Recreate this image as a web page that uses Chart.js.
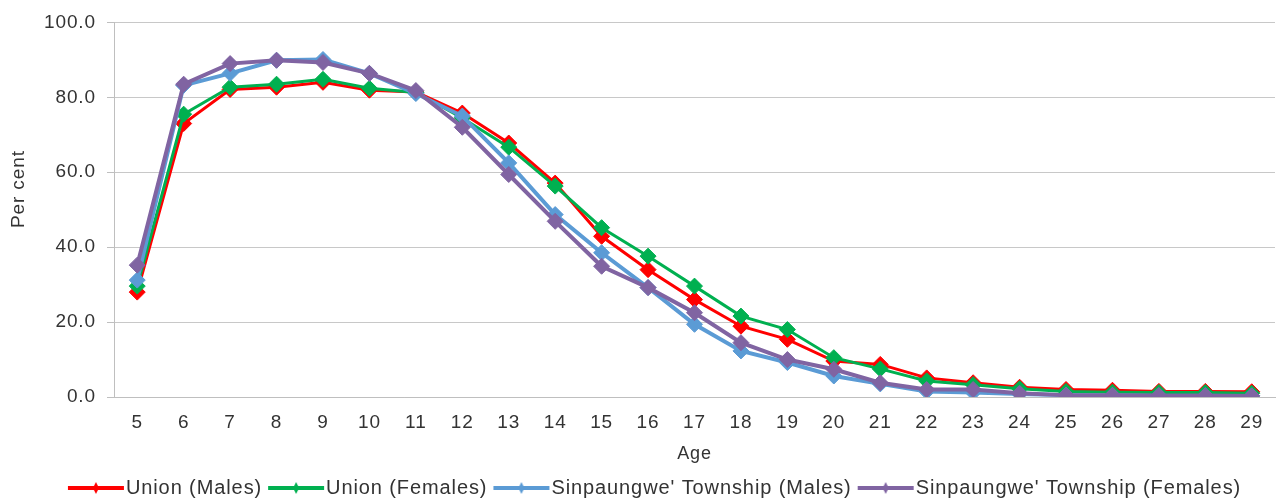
<!DOCTYPE html>
<html>
<head>
<meta charset="utf-8">
<script src="https://cdn.jsdelivr.net/npm/chart.js@4.4.1/dist/chart.umd.min.js"></script>
<style>
  html, body { margin: 0; padding: 0; background: #ffffff; }
  #wrap { width: 1284px; height: 500px; position: relative; }
</style>
</head>
<body>
<div id="wrap"><canvas id="c"></canvas></div>
<script>
const ages = ['5','6','7','8','9','10','11','12','13','14','15','16','17','18','19','20','21','22','23','24','25','26','27','28','29'];
const unionMales = [28.0, 73.0, 82.1, 82.7, 84.0, 81.9, 81.4, 75.8, 67.8, 57.1, 42.9, 34.0, 26.0, 18.9, 15.4, 9.6, 8.7, 5.1, 3.8, 2.6, 2.0, 1.8, 1.5, 1.5, 1.4];
const unionFemales = [29.6, 75.5, 82.7, 83.5, 84.8, 82.4, 81.3, 74.5, 66.7, 56.3, 45.2, 37.6, 29.6, 21.6, 18.0, 10.5, 7.5, 4.3, 3.3, 2.2, 1.5, 1.3, 1.2, 1.2, 1.0];
const townshipMales = [31.2, 83.2, 86.4, 89.9, 90.1, 86.4, 81.0, 75.0, 62.5, 48.7, 38.5, 29.2, 19.4, 12.3, 9.2, 5.6, 3.5, 1.5, 1.2, 0.8, 0.5, 0.4, 0.3, 0.3, 0.3];
const townshipFemales = [35.2, 83.5, 89.0, 89.9, 89.3, 86.4, 81.8, 72.0, 59.4, 46.9, 34.9, 29.2, 22.5, 14.5, 10.0, 7.4, 3.8, 2.0, 2.0, 1.0, 0.5, 0.5, 0.4, 0.4, 0.3];
const seriesNames = ['Union (Males)', 'Union (Females)', "Sinpaungwe' Township (Males)", "Sinpaungwe' Township (Females)"];
const yTicks = [0, 20, 40, 60, 80, 100];
const yTitle = 'Per cent';
const xTitle = 'Age';

const colors = ['#FF0000', '#00B050', '#5B9BD5', '#8064A2'];
const lineWidths = [3, 3, 4, 4];

function legendIcon(color) {
  const cv = document.createElement('canvas');
  cv.width = 70; cv.height = 14;
  const g = cv.getContext('2d');
  g.strokeStyle = color; g.lineWidth = 4;
  g.beginPath(); g.moveTo(12, 7); g.lineTo(68, 7); g.stroke();
  g.fillStyle = color;
  g.beginPath(); g.moveTo(40, 1); g.lineTo(43, 7); g.lineTo(40, 13); g.lineTo(37, 7); g.closePath(); g.fill();
  return cv;
}

const FONT = "'Liberation Sans', Arial, sans-serif";
Chart.defaults.font.family = FONT;
Chart.defaults.color = '#333333';

const SPACING = '0.9px';
const spacingPlugin = {
  id: 'spacing',
  beforeUpdate(chart) { chart.ctx.letterSpacing = SPACING; },
  beforeDraw(chart) { chart.ctx.letterSpacing = SPACING; },
  resize(chart) { chart.ctx.letterSpacing = SPACING; }
};

// y-axis title, drawn slightly above the plot's vertical centre as in the reference
const yTitlePlugin = {
  id: 'yTitle',
  afterDraw(chart) {
    const ctx = chart.ctx;
    const area = chart.chartArea;
    ctx.save();
    ctx.letterSpacing = SPACING;
    ctx.font = "19px " + FONT;
    ctx.fillStyle = '#333333';
    ctx.textAlign = 'center';
    ctx.textBaseline = 'middle';
    ctx.translate(19, area.top + (area.bottom - area.top) * 0.445);
    ctx.rotate(-Math.PI / 2);
    ctx.fillText(yTitle, 0, 0);
    ctx.restore();
  }
};

const allData = [unionMales, unionFemales, townshipMales, townshipFemales];
const datasets = allData.map((d, i) => ({
  label: seriesNames[i],
  data: d,
  borderColor: colors[i],
  backgroundColor: colors[i],
  borderWidth: lineWidths[i],
  pointStyle: 'rectRot',
  pointRadius: 8,
  pointHoverRadius: 8,
  pointBorderWidth: 1,
  pointBorderColor: colors[i],
  pointBackgroundColor: colors[i],
  tension: 0,
  order: 4 - i,
  legendIcon: legendIcon(colors[i])
}));

new Chart(document.getElementById('c'), {
  type: 'line',
  data: { labels: ages, datasets },
  plugins: [spacingPlugin, yTitlePlugin],
  options: {
    responsive: true,
    maintainAspectRatio: false,
    animation: false,
    layout: { padding: { top: 21, left: 32, right: 9, bottom: -8 } },
    plugins: {
      tooltip: { enabled: false },
      legend: {
        position: 'bottom',
        labels: {
          usePointStyle: true,
          pointStyleWidth: 50,
          boxHeight: 14,
          padding: 4,
          color: '#333333',
          font: { size: 20 },
          sort: (a, b) => a.datasetIndex - b.datasetIndex,
          generateLabels(chart) {
            return chart.data.datasets.map((ds, i) => ({
              text: ds.label,
              fillStyle: ds.borderColor,
              strokeStyle: ds.borderColor,
              lineWidth: 0,
              pointStyle: ds.legendIcon,
              hidden: false,
              datasetIndex: i,
              fontColor: '#333333'
            }));
          }
        }
      }
    },
    scales: {
      x: {
        offset: true,
        afterFit(scale) { scale.height = 77; },
        grid: { display: false, drawTicks: false },
        border: { display: true, color: '#BFBFBF', width: 1 },
        ticks: { padding: 16, font: { size: 19, lineHeight: 1.0 }, color: '#333333', maxRotation: 0, autoSkip: false },
        title: { display: true, text: xTitle, font: { size: 18 }, color: '#333333', padding: { top: 0, bottom: 9 } }
      },
      y: {
        min: 0, max: 100,
        afterBuildTicks(scale) { scale.ticks = yTicks.map(v => ({ value: v })); },
        afterFit(scale) { scale.width = 82; },
        grid: { color: '#C8C8C8', lineWidth: 1, drawTicks: true, tickLength: 7, tickColor: '#BFBFBF' },
        border: { display: true, color: '#BFBFBF', width: 1 },
        ticks: { padding: 11, font: { size: 19 }, color: '#333333', callback: v => Number(v).toFixed(1) },
        title: { display: false }
      }
    }
  }
});
</script>
</body>
</html>
